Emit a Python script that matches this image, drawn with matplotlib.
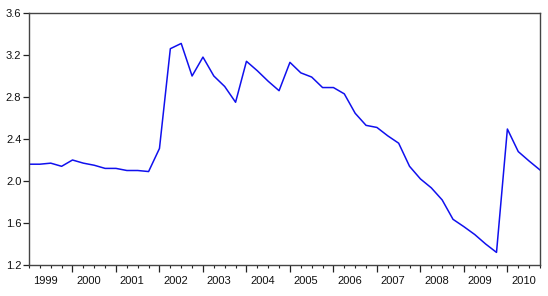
import matplotlib
matplotlib.use("Agg")
import matplotlib.pyplot as plt
import matplotlib.transforms as mtransforms
import numpy as np

plt.rcParams['font.family'] = ['Liberation Sans', 'DejaVu Sans']

# quarterly series, 1999Q1 .. 2010Q4
start_year = 1999
values = [
    2.16, 2.16, 2.17, 2.14,   # 1999
    2.20, 2.17, 2.15, 2.12,   # 2000
    2.12, 2.10, 2.10, 2.09,   # 2001
    2.31, 3.26, 3.31, 3.00,   # 2002
    3.18, 3.00, 2.90, 2.75,   # 2003
    3.14, 3.05, 2.95, 2.86,   # 2004
    3.13, 3.03, 2.99, 2.89,   # 2005
    2.89, 2.83, 2.645, 2.53,  # 2006
    2.51, 2.43, 2.36, 2.14,   # 2007
    2.02, 1.935, 1.82, 1.635, # 2008
    1.565, 1.49, 1.40, 1.32,  # 2009
    2.495, 2.28, 2.19, 2.105, # 2010
]
years = list(range(1999, 2011))
year_labels = [str(y) for y in years]
y_ticks = [1.2, 1.6, 2.0, 2.4, 2.8, 3.2, 3.6]

t = start_year + np.arange(len(values)) / 4.0

fig = plt.figure(figsize=(5.48, 2.96), dpi=100)
ax = fig.add_axes([29 / 548, 1 - 265 / 296, 511 / 548, 252 / 296])

ax.plot(t, values, color='#1010ee', linewidth=1.1)

ax.set_xlim(t[0], t[-1])
ax.set_ylim(1.2, 3.6)
ax.set_yticks(y_ticks)
ax.set_yticklabels([f"{v:.1f}" for v in y_ticks])

# year ticks (long) and quarter ticks (short), labels centred in each year
ax.set_xticks(years[1:])
ax.set_xticklabels([])
ax.set_xticks(t, minor=True)
ax.tick_params(axis='x', which='major', direction='out', length=5, width=0.9, color='#222222')
ax.tick_params(axis='x', which='minor', direction='out', length=2.5, width=0.8, color='#222222')
ax.tick_params(axis='y', direction='out', length=4, width=0.9, color='#222222',
               labelsize=8, pad=1.5, labelcolor='#111111')

trans = mtransforms.blended_transform_factory(ax.transData, ax.transAxes)
for yr, lab in zip(years, year_labels):
    ax.text(yr + 0.375, -0.045, lab, transform=trans, ha='center', va='top',
            fontsize=8, color='#111111')

for s in ax.spines.values():
    s.set_color('#444444')
    s.set_linewidth(1.0)

fig.savefig("out.png", dpi=100)
